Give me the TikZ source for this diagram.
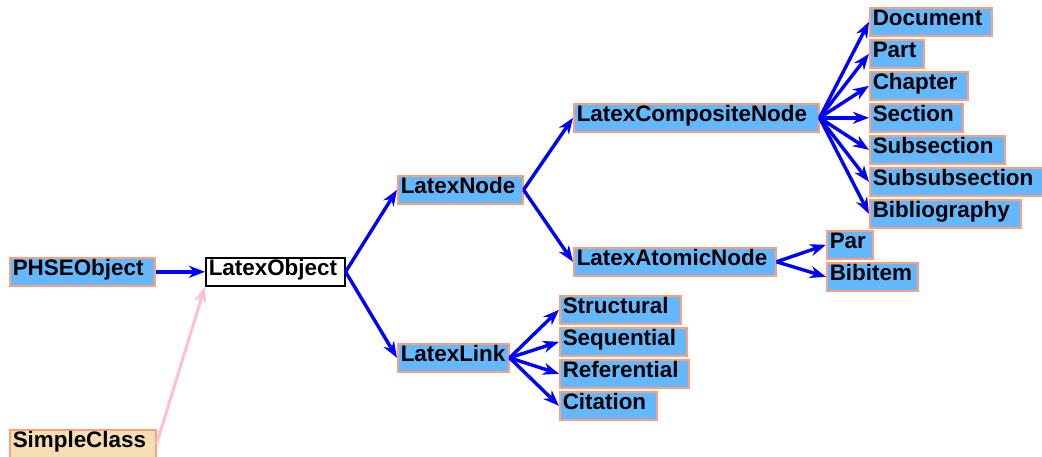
\documentclass[tikz,border=0pt]{standalone}
\usepackage{fontspec}
\setmainfont{Liberation Sans}
\usetikzlibrary{arrows.meta}
\definecolor{clsfill}{HTML}{63B8FF}
\definecolor{clsedge}{HTML}{FFA07A}
\definecolor{extfill}{HTML}{F5DEB3}
\definecolor{linkpink}{HTML}{FFC0CB}
\begin{document}
\begin{tikzpicture}[x=1pt,y=-1pt,
  cls/.style={anchor=north west, draw=clsedge, fill=clsfill, line width=1.6pt,
    font=\fontsize{22.4}{26}\selectfont\bfseries, inner xsep=3pt, inner ysep=2.5pt,
    align=left, text width=#1pt,
    text height=15.5pt, text depth=7.5pt, execute at begin node={\hyphenpenalty=10000 }},
  extcls/.style={cls=#1, fill=extfill},
  rootcls/.style={cls=#1, draw=black, fill=white},
  arr/.style={draw=blue, line width=3.4pt, -{Stealth[length=16pt,width=12pt,inset=5pt]}},
  pinkarr/.style={draw=linkpink, line width=3pt, -{Stealth[length=16pt,width=12pt,inset=5pt]}}]
\useasboundingbox (0,0) rectangle (1042,456);

% class boxes (text width = box width - 6)
\node[cls=139] (phse) at (9,257) {PHSEObject};
\node[rootcls=133] (lobj) at (205,257) {LatexObject};
\node[extcls=140] (simple) at (9,429) {SimpleClass};
\node[cls=119] (lnode) at (397,175) {LatexNode};
\node[cls=239] (lcomp) at (573,103) {LatexCompositeNode};
\node[cls=196] (latom) at (573,247) {LatexAtomicNode};
\node[cls=40] (par) at (826,230) {Par};
\node[cls=85] (bibitem) at (826,262) {Bibitem};
\node[cls=116] (doc) at (869,7) {Document};
\node[cls=48] (part) at (869,39) {Part};
\node[cls=92] (chap) at (869,71) {Chapter};
\node[cls=87] (sec) at (869,103) {Section};
\node[cls=129] (subsec) at (869,135) {Subsection};
\node[cls=168] (subsub) at (869,167) {Subsubsection};
\node[cls=145] (biblio) at (869,199) {Bibliography};
\node[cls=105] (llink) at (397,343) {LatexLink};
\node[cls=115] (struct) at (559,295) {Structural};
\node[cls=121] (seq) at (559,327) {Sequential};
\node[cls=123] (ref) at (559,359) {Referential};
\node[cls=91] (cit) at (559,391) {Citation};

% inheritance arrows
\draw[arr] (phse.east) -- (lobj.west);
\draw[pinkarr] (simple.east) -- (lobj.south west);
\draw[arr] (lobj.east) -- (lnode.west);
\draw[arr] (lobj.east) -- (llink.west);
\draw[arr] (lnode.east) -- (lcomp.west);
\draw[arr] (lnode.east) -- (latom.west);
\foreach \c in {doc,part,chap,sec,subsec,subsub,biblio}
  \draw[arr] (lcomp.east) -- (\c.west);
\foreach \c in {par,bibitem}
  \draw[arr] (latom.east) -- (\c.west);
\foreach \c in {struct,seq,ref,cit}
  \draw[arr] (llink.east) -- (\c.west);
\end{tikzpicture}
\end{document}
